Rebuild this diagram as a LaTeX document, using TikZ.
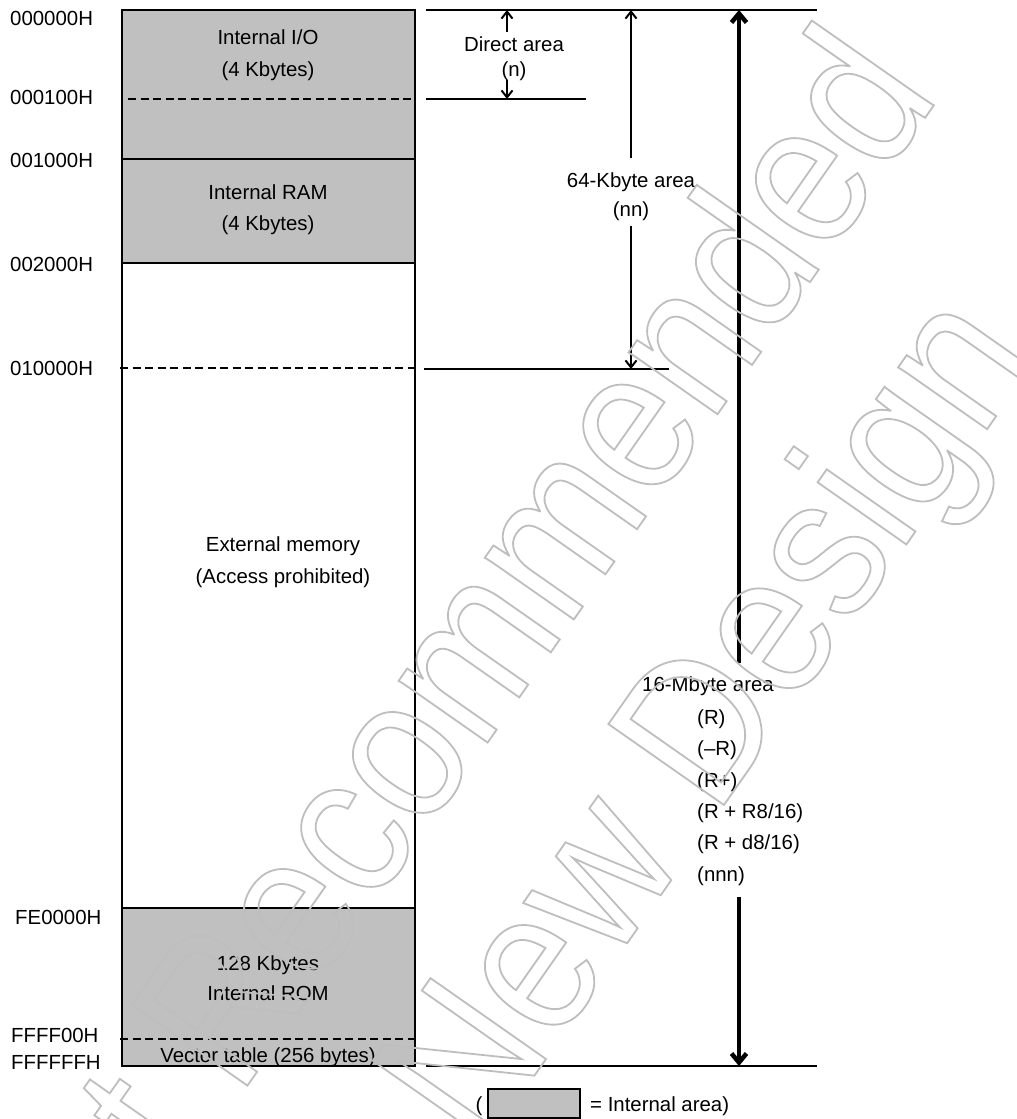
\documentclass[tikz,border=0pt]{standalone}
\usepackage{fontspec}
\setmainfont{Liberation Sans}
\newfontfamily\wmfont[FakeStretch=0.88]{Liberation Sans}
\usetikzlibrary{arrows.meta}
\definecolor{memgray}{RGB}{192,192,192}
\definecolor{wmgray}{RGB}{190,190,190}
\newcommand{\wmline}[1]{\special{pdf:literal direct 1 Tr 1.8 w}#1}
\begin{document}
\begin{tikzpicture}[x=1pt,y=-1pt,
  lbl/.style={font=\fontsize{20.4}{24}\selectfont, inner sep=0pt, anchor=base},
  addr/.style={lbl, anchor=base west},
  boxline/.style={line width=2pt},
  dashline/.style={line width=2.2pt, dash pattern=on 8pt off 4.5pt},
  rule/.style={line width=2pt},
  thinarrow/.style={line width=2pt, -{Straight Barb[length=7pt,width=11pt]}},
  thickarrow/.style={line width=4.5pt, -{Straight Barb[length=9pt,width=15pt]}},
  wm/.style={rotate=55, anchor=base, inner sep=0pt, text=wmgray,
             font=\wmfont\fontsize{205}{220}\selectfont}]
\useasboundingbox (0,0) rectangle (1017,1119);

% memory map fills
\fill[memgray] (122,10) rectangle (415,263);
\fill[memgray] (122,908) rectangle (415,1066);

% separators
\coordinate (mTL) at (122,10);
\coordinate (mBR) at (415,1066);
\draw[boxline] (122,159) -- (415,159);
\draw[boxline] (122,263) -- (415,263);
\draw[boxline] (122,908) -- (415,908);
\draw[dashline] (128,99) -- (415,99);
\draw[dashline] (120,368) -- (415,368);
\draw[dashline] (120,1039) -- (415,1039);
\draw[boxline] (mTL) rectangle (mBR);

% address labels
\node[addr] (a0) at (10,25) {000000H};
\node[addr] (a1) at (10,104) {000100H};
\node[addr] (a2) at (10,167) {001000H};
\node[addr] (a3) at (10,271) {002000H};
\node[addr] (a4) at (10,375) {010000H};
\node[addr] (a5) at (15,924) {FE0000H};
\node[addr] (a6) at (11,1042) {FFFF00H};
\node[addr] (a7) at (11,1069) {FFFFFFH};

% area texts
\node[lbl] (io1) at (268,44) {Internal I/O};
\node[lbl] (io2) at (268,76) {(4 Kbytes)};
\node[lbl] (ram1) at (268,199) {Internal RAM};
\node[lbl] (ram2) at (268,230) {(4 Kbytes)};
\node[lbl] (ext1) at (283,551) {External memory};
\node[lbl] (ext2) at (283,583) {(Access prohibited)};
\node[lbl] (rom1) at (268,970) {128 Kbytes};
\node[lbl] (rom2) at (268,1000) {Internal ROM};
\node[lbl] (vec) at (268,1062) {Vector table (256 bytes)};

% right-side reference lines
\coordinate (r0a) at (426,10);  \coordinate (r0b) at (817,10);
\coordinate (r1a) at (426,99);  \coordinate (r1b) at (586,99);
\coordinate (r2a) at (424,369); \coordinate (r2b) at (669,369);
\coordinate (r3a) at (426,1066); \coordinate (r3b) at (817,1066);
\draw[rule] (r0a) -- (r0b);
\draw[rule] (r1a) -- (r1b);
\draw[rule] (r2a) -- (r2b);
\draw[rule] (r3a) -- (r3b);

% direct area
\node[lbl] (dir1) at (514,51) {Direct area};
\node[lbl] (dir2) at (514,76) {(n)};
\coordinate (d0) at (507,32); \coordinate (d0t) at (507,10);
\coordinate (d1) at (507,80); \coordinate (d1t) at (507,99);
\draw[thinarrow] (d0) -- (d0t);
\draw[thinarrow] (d1) -- (d1t);

% 64-Kbyte area
\node[lbl] (k1) at (631,187) {64-Kbyte area};
\node[lbl] (k2) at (631,216) {(nn)};
\coordinate (k0) at (631,158); \coordinate (k0t) at (631,10);
\coordinate (k3) at (631,226); \coordinate (k3t) at (631,369);
\draw[thinarrow] (k0) -- (k0t);
\draw[thinarrow] (k3) -- (k3t);

% 16-Mbyte area
\node[lbl] (m1) at (708,691) {16-Mbyte area};
\node[addr] (m2) at (697,724) {(R)};
\node[addr] (m3) at (697,755) {(–R)};
\node[addr] (m4) at (697,787) {(R+)};
\node[addr] (m5) at (697,818) {(R + R8/16)};
\node[addr] (m6) at (697,849) {(R + d8/16)};
\node[addr] (m7) at (697,881) {(nnn)};
\coordinate (M0) at (739,663); \coordinate (M0t) at (739,10);
\coordinate (M1) at (739,897); \coordinate (M1t) at (739,1066);
\draw[thickarrow] (M0) -- (M0t);
\draw[thickarrow] (M1) -- (M1t);

% legend
\node[lbl] (lp) at (479,1111) {(};
\draw[line width=1.5pt, fill=memgray] (488,1089) rectangle (580,1118);
\node[addr] (lt) at (590,1111) {= Internal area)};

% watermark
\node[wm] (wm1) at (495,732) {\wmline{Not Recommended}};
\node[wm] (wm2) at (684,862) {\wmline{for New Design}};
\end{tikzpicture}
\end{document}
